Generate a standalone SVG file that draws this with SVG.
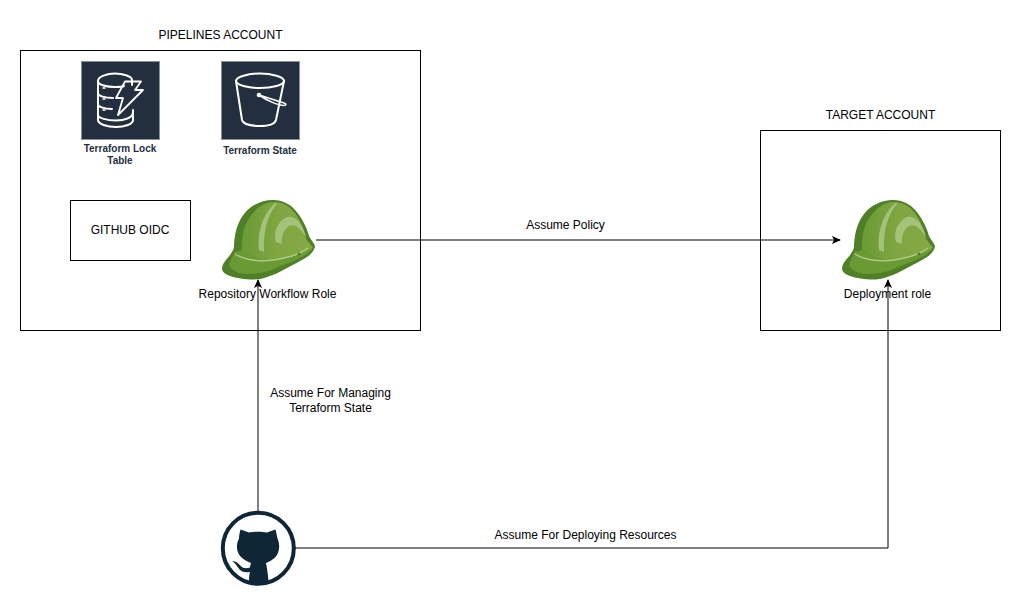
<svg xmlns="http://www.w3.org/2000/svg" width="1021" height="606" viewBox="0 0 1021 606">
<style>
text{font-family:"Liberation Sans",Arial,sans-serif;font-size:12px;fill:#000;text-anchor:middle}
.b{fill:#232F3E;font-size:10px;font-weight:bold}
.box{fill:#fff;stroke:#000;stroke-width:1}
.tile{fill:#232F3E;stroke:#879196;stroke-width:1}
.ic{fill:none;stroke:#fff;stroke-width:2;stroke-linejoin:round;stroke-linecap:round}
.c{fill:none;stroke:#000;stroke-width:1}
</style>
<defs>
<marker id="arr" viewBox="0 0 10 10" refX="9" refY="5" markerWidth="9" markerHeight="9" markerUnits="userSpaceOnUse" orient="auto"><path d="M0,0.5L10,5L0,9.5L2.5,5Z" fill="#000"/></marker>
<linearGradient id="shell" x1="0" y1="0" x2="1" y2="0"><stop offset="0" stop-color="#6B9A36"/><stop offset="0.5" stop-color="#7FA640"/><stop offset="1" stop-color="#84AA45"/></linearGradient>
<g id="helmet">
<path d="M12,78C13,72 18,68 20,65C22,62 23,60 24,58C24,45 27,33 34,24C41,15 52,10 63,10C73,10 80,14 86,21C92,28 97,38 99,46C101,50 105,54 105,57C104,61 100,65 97,67C91,71 84,74 77,78C70,82 64,85 57,87C52,89 47,89.500 43,89.500C35,89.500 26,88 20,86C15,84 12,82 12,78Z" fill="#4F7F27"/>
<path d="M32,60C31,47 34,35 40,27C47,17 55,12 64,12C74,12 81,17 87,26C92,34 95,42 96,49C99,53 102,56 103,58C94,64 84,67 74,69C60,72 44,70 32,60Z" fill="url(#shell)"/>
<path d="M25,61C28,63 30,60 32,60C44,70 62,71 74,69C84,67 94,63 103,58C100,62 96,65 92,67C84,71 76,74 68,77C56,83 46,84 36,84C28,84 21,80 19,75C21,70 23,65 25,61Z" fill="#6A9A34"/>
<path d="M25,64C34,70 50,72 64,70C78,68 91,63 98,58" fill="none" stroke="#B0CA85" stroke-width="1.500"/>
<path d="M49,60C47,43 52,26 64,14C67,13 68,14 66,15C57,26 53,43 54,62Z" fill="#A5C27A"/>
<path d="M66,52C63,42 68,31 77,27C87,25 93,36 96,47C90,38 85,33 79,36C74,39 71,46 72,54Z" fill="#A5C27A"/>
<circle cx="89" cy="64" r="1.600" fill="#4F7F27"/>
</g>
</defs>

<text x="220.500" y="39">PIPELINES ACCOUNT</text>
<text x="880.500" y="119">TARGET ACCOUNT</text>

<g id="pipelines-account"><rect class="box" x="20.500" y="50.500" width="400" height="280"/></g>
<g id="target-account"><rect class="box" x="760.500" y="130.500" width="240" height="200"/></g>

<g id="terraform-lock-table">
<rect class="tile" x="81.500" y="61.500" width="78" height="78"/>
<g class="ic">
<path d="M132,85V80C132,76 122,73.500 115,73.500C107,73.500 98,76.500 98,81C98,85 107,87 115,87C119,87 122,87 124,86"/>
<path d="M98,81V120C98,124 107,127 116,127C125,127 133,124 133,120V110"/>
<path d="M98,93C98,96 105,98 113,98M98,104C98,107 105,109 112,109M98,115C98,118 107,120.500 116,120.500C124,120.500 133,118 133,112"/>
<path d="M125,81.500H141L135,90H143L118,115L123,98H116Z" stroke-width="1.800"/>
<path d="M103,88H105M103,99H105M103,110H105" stroke-width="1.500"/>
</g>
<text class="b" x="120" y="152">Terraform Lock</text>
<text class="b" x="120" y="164">Table</text>
</g>

<g id="terraform-state">
<rect class="tile" x="221.500" y="61.500" width="78" height="78"/>
<g class="ic">
<path d="M236,81C236,77 248,73.500 260,73.500C272,73.500 284,77 284,81C284,85 272,88 260,88C248,88 236,85 236,81Z"/>
<path d="M236,81L242,120C243,124 251,126 260,126C269,126 275,124 276,120L284,81"/>
<path d="M259,95L284,103C287,104 286,105.500 284,105.500C278,105.500 266,100 259,95Z" stroke-width="1.600"/>
</g>
<circle cx="259" cy="95" r="2.300" fill="#fff"/>
<text class="b" x="260" y="154">Terraform State</text>
</g>

<g id="github-oidc">
<rect class="box" x="70.500" y="200.500" width="120" height="60"/>
<text x="130" y="234">GITHUB OIDC</text>
</g>

<g id="repository-workflow-role">
<use href="#helmet" x="210" y="190"/>
<text x="267.500" y="298">Repository Workflow Role</text>
</g>
<g id="deployment-role">
<use href="#helmet" x="830" y="190"/>
<text x="887.500" y="298">Deployment role</text>
</g>

<g id="github">
<circle cx="258.300" cy="548.300" r="35.500" fill="#fff" stroke="#0F2636" stroke-width="4"/>
<path d="M240.500,529.500L249,532.500C254,531.500 262,531.500 267,532.500L275.500,529.500C276.500,533 277,536 277.500,538.500C280,544 280,552 275.500,557C272.500,560 269,562 266,563C267,568 268,574 268.500,582C261,584 255,584 249,582C249,578 249,575 250,572C245,573 241,572 238,567.500C236,564.500 234.500,562.500 232,561C237,561 239.500,565 242,567C244,568.500 247,568.500 250,567.500C250,566 250.500,564.500 251,563C248,562 244,560 241,557C236,552 236,544 239,538.500C239,536 239.500,533 240.500,529.500Z" fill="#0F2636"/>
</g>

<g id="connectors">
<path class="c" d="M258,511V280" marker-end="url(#arr)"/>
<path class="c" d="M316,240H840" marker-end="url(#arr)"/>
<path class="c" d="M295,548H888V280" marker-end="url(#arr)"/>
</g>

<text x="565.500" y="229">Assume Policy</text>
<text x="330.500" y="397">Assume For Managing</text>
<text x="330.500" y="412">Terraform State</text>
<text x="585.500" y="539">Assume For Deploying Resources</text>
</svg>
